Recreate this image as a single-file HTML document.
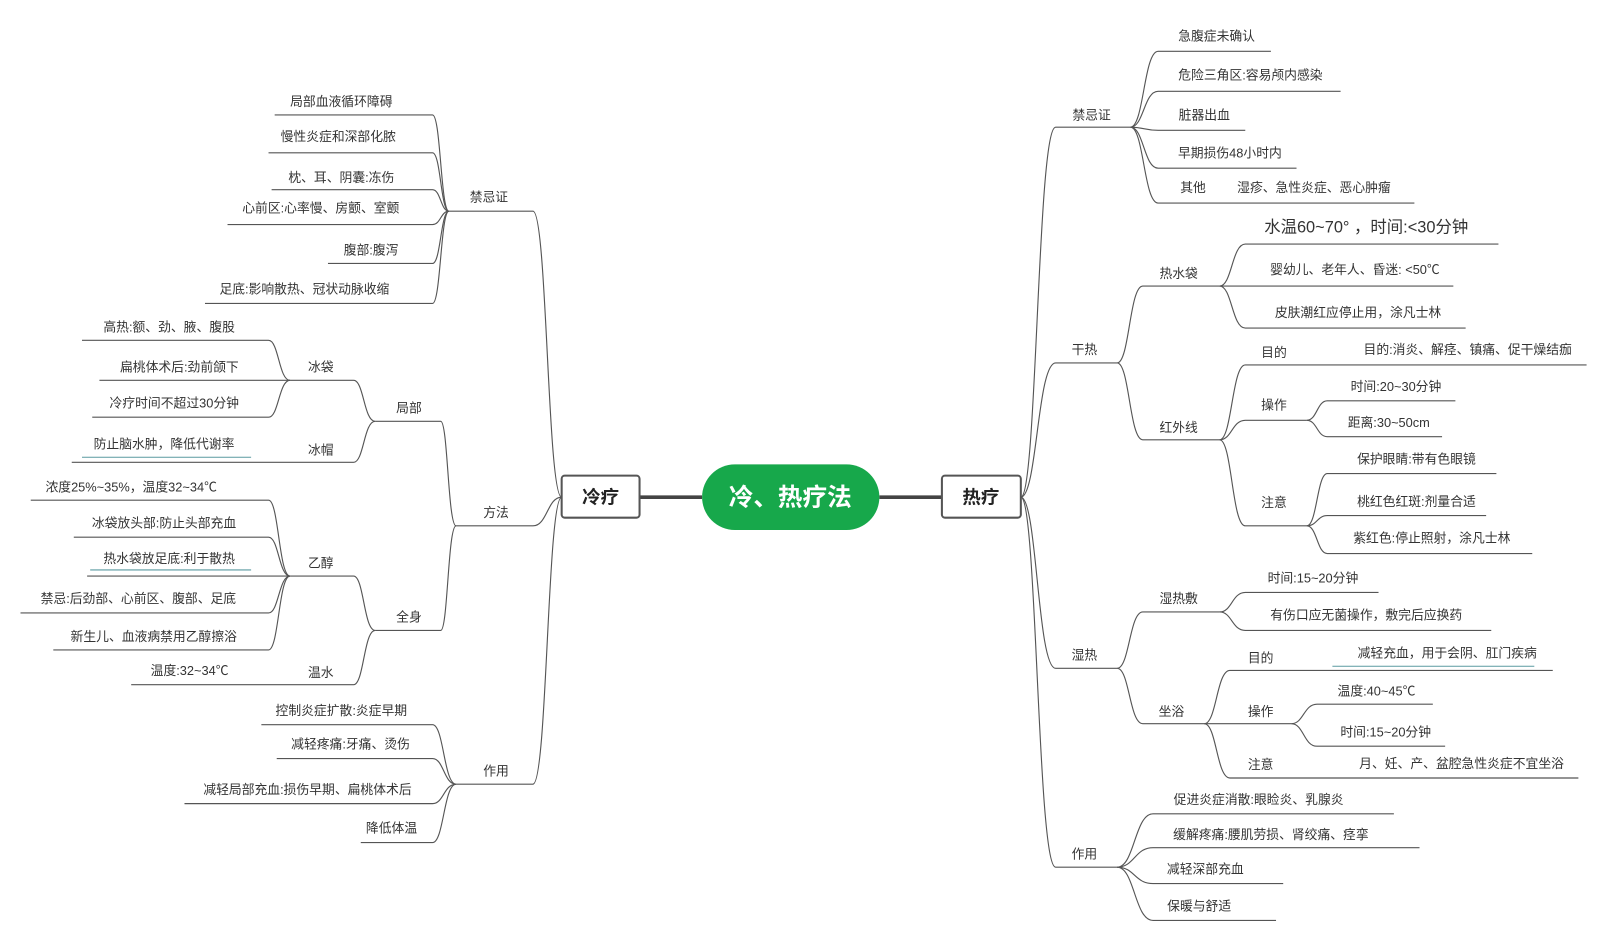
<!DOCTYPE html>
<html><head><meta charset="utf-8"><style>
html,body{margin:0;padding:0;background:#fff;}
svg{display:block;}
text{font-family:"Liberation Sans","Noto Sans CJK SC",sans-serif;font-size:12.5px;fill:#333;text-anchor:middle;dominant-baseline:central;}
.l{fill:none;stroke:#555;stroke-width:1.1;}
</style></head><body>
<svg width="1604" height="939" viewBox="0 0 1565 916" xmlns="http://www.w3.org/2000/svg">
<!-- center -->
<path d="M624 485 H685 M858 485 H919" stroke="#444" stroke-width="3.5" fill="none"/>
<rect x="685" y="453" width="173" height="64" rx="32" fill="#17a84b"/>
<text x="771" y="486" style="font-size:24px;font-weight:bold;fill:#fff">冷、热疗法</text>
<rect x="548" y="464" width="76" height="41" rx="3" fill="#fff" stroke="#555" stroke-width="2"/>
<text x="586" y="485" style="font-size:18px;font-weight:bold;fill:#222">冷疗</text>
<rect x="919" y="464" width="77" height="41" rx="3" fill="#fff" stroke="#555" stroke-width="2"/>
<text x="957" y="485" style="font-size:18px;font-weight:bold;fill:#222">热疗</text>

<!-- LEFT -->
<g class="l">
<path d="M438 206 H520 C534 206 534 485 548 485"/>
<path d="M445 513 H520 C534 513 534 485 548 485"/>
<path d="M445 765 H520 C534 765 534 485 548 485"/>
<path d="M268 112 H422 C430 112 430 206 438 206"/>
<path d="M262 149 H422 C430 149 430 206 438 206"/>
<path d="M265 185 H422 C430 185 430 206 438 206"/>
<path d="M222 219 H422 C430 219 430 206 438 206"/>
<path d="M320 257 H422 C430 257 430 206 438 206"/>
<path d="M200 296 H422 C430 296 430 206 438 206"/>
<path d="M366 411 H430 C437 411 437 513 445 513"/>
<path d="M366 615 H430 C437 615 437 513 445 513"/>
<path d="M283 371 H345 C355 371 355 411 366 411"/>
<path d="M70 451 H345 C355 451 355 411 366 411"/>
<path d="M80 332 H262 C272 332 272 371 283 371"/>
<path d="M97 371 H283"/>
<path d="M90 407 H262 C272 407 272 371 283 371"/>
<path d="M283 562 H345 C355 562 355 615 366 615"/>
<path d="M128 668 H345 C355 668 355 615 366 615"/>
<path d="M30 488 H262 C272 488 272 562 283 562"/>
<path d="M72 524 H262 C272 524 272 562 283 562"/>
<path d="M85 562 H283"/>
<path d="M20 598 H262 C272 598 272 562 283 562"/>
<path d="M52 634 H262 C272 634 272 562 283 562"/>
<path d="M255 707 H422 C433 707 433 765 445 765"/>
<path d="M270 740 H422 C433 740 433 765 445 765"/>
<path d="M180 784 H422 C433 784 433 765 445 765"/>
<path d="M352 822 H422 C433 822 433 765 445 765"/>
</g>
<path d="M80 446 H245 M88 556 H245" stroke="#5a9aa0" stroke-width="1" fill="none"/>
<text x="477" y="192">禁忌证</text>
<text x="333" y="99">局部血液循环障碍</text>
<text x="330" y="133">慢性炎症和深部化脓</text>
<text x="333" y="173">枕、耳、阴囊:冻伤</text>
<text x="313" y="203">心前区:心率慢、房颤、室颤</text>
<text x="362" y="244">腹部:腹泻</text>
<text x="297" y="282">足底:影响散热、冠状动脉收缩</text>
<text x="484" y="500">方法</text>
<text x="399" y="398">局部</text>
<text x="313" y="358">冰袋</text>
<text x="165" y="319">高热:额、劲、腋、腹股</text>
<text x="175" y="358">扁桃体术后:劲前颌下</text>
<text x="170" y="393">冷疗时间不超过30分钟</text>
<text x="313" y="439">冰帽</text>
<text x="160" y="433">防止脑水肿，降低代谢率</text>
<text x="399" y="602">全身</text>
<text x="313" y="549">乙醇</text>
<text x="128" y="475">浓度25%~35%，温度32~34℃</text>
<text x="160" y="510">冰袋放头部:防止头部充血</text>
<text x="165" y="545">热水袋放足底:利于散热</text>
<text x="135" y="584">禁忌:后劲部、心前区、腹部、足底</text>
<text x="150" y="621">新生儿、血液病禁用乙醇擦浴</text>
<text x="313" y="656">温水</text>
<text x="185" y="654">温度:32~34℃</text>
<text x="484" y="752">作用</text>
<text x="333" y="693">控制炎症扩散:炎症早期</text>
<text x="342" y="726">减轻疼痛:牙痛、烫伤</text>
<text x="300" y="770">减轻局部充血:损伤早期、扁桃体术后</text>
<text x="382" y="808">降低体温</text>

<!-- RIGHT -->
<g class="l">
<path d="M996 485 C1012 485 1012 124 1030 124 H1103"/>
<path d="M996 485 C1012 485 1012 354 1030 354 H1090"/>
<path d="M996 485 C1012 485 1012 652 1030 652 H1090"/>
<path d="M996 485 C1012 485 1012 846 1030 846 H1090"/>
<path d="M1103 124 C1116 124 1116 50 1130 50 H1240"/>
<path d="M1103 124 C1116 124 1116 89 1130 89 H1308"/>
<path d="M1103 124 C1116 124 1116 127 1130 127 H1215"/>
<path d="M1103 124 C1116 124 1116 164 1130 164 H1265"/>
<path d="M1103 124 C1116 124 1116 198 1130 198 H1380"/>
<path d="M1090 354 C1102 354 1102 279 1115 279 H1190"/>
<path d="M1090 354 C1102 354 1102 429 1115 429 H1190"/>
<path d="M1190 279 C1202 279 1202 238 1215 238 H1462"/>
<path d="M1190 279 H1418"/>
<path d="M1190 279 C1202 279 1202 320 1215 320 H1430"/>
<path d="M1190 429 C1202 429 1202 356 1215 356 H1548"/>
<path d="M1190 429 C1202 429 1202 410 1215 410 H1275"/>
<path d="M1190 429 C1202 429 1202 513 1215 513 H1275"/>
<path d="M1275 410 C1285 410 1285 391 1295 391 H1420"/>
<path d="M1275 410 C1285 410 1285 426 1295 426 H1407"/>
<path d="M1275 513 C1285 513 1285 462 1295 462 H1460"/>
<path d="M1275 513 C1285 513 1285 503 1295 503 H1450"/>
<path d="M1275 513 C1285 513 1285 540 1295 540 H1495"/>
<path d="M1090 652 C1102 652 1102 597 1115 597 H1190"/>
<path d="M1090 652 C1102 652 1102 706 1115 706 H1175"/>
<path d="M1190 597 C1202 597 1202 578 1215 578 H1345"/>
<path d="M1190 597 C1202 597 1202 615 1215 615 H1455"/>
<path d="M1175 706 C1187 706 1187 654 1200 654 H1515"/>
<path d="M1175 706 H1260"/>
<path d="M1175 706 C1187 706 1187 759 1200 759 H1540"/>
<path d="M1260 706 C1272 706 1272 687 1285 687 H1398"/>
<path d="M1260 706 C1272 706 1272 728 1285 728 H1410"/>
<path d="M1090 846 C1107 846 1107 794 1125 794 H1360"/>
<path d="M1090 846 C1107 846 1107 827 1125 827 H1385"/>
<path d="M1090 846 C1107 846 1107 862 1125 862 H1252"/>
<path d="M1090 846 C1107 846 1107 898 1125 898 H1245"/>
</g>
<path d="M1300 650 H1497" stroke="#5a9aa0" stroke-width="1" fill="none"/>
<text x="1065" y="112">禁忌证</text>
<text x="1187" y="35">急腹症未确认</text>
<text x="1220" y="73">危险三角区:容易颅内感染</text>
<text x="1175" y="112">脏器出血</text>
<text x="1200" y="149">早期损伤48小时内</text>
<text x="1164" y="183">其他</text>
<text x="1282" y="183">湿疹、急性炎症、恶心肿瘤</text>
<text x="1058" y="341">干热</text>
<text x="1150" y="267">热水袋</text>
<text x="1333" y="222" style="font-size:16px">水温60~70° ，时间:&lt;30分钟</text>
<text x="1322" y="263">婴幼儿、老年人、昏迷: &lt;50℃</text>
<text x="1325" y="305">皮肤潮红应停止用，涂凡士林</text>
<text x="1150" y="417">红外线</text>
<text x="1243" y="344">目的</text>
<text x="1432" y="341">目的:消炎、解痉、镇痛、促干燥结痂</text>
<text x="1243" y="395">操作</text>
<text x="1362" y="377">时间:20~30分钟</text>
<text x="1355" y="412">距离:30~50cm</text>
<text x="1243" y="490">注意</text>
<text x="1382" y="448">保护眼睛:带有色眼镜</text>
<text x="1382" y="489">桃红色红斑:剂量合适</text>
<text x="1397" y="525">紫红色:停止照射，涂凡士林</text>
<text x="1058" y="639">湿热</text>
<text x="1150" y="584">湿热敷</text>
<text x="1281" y="564">时间:15~20分钟</text>
<text x="1333" y="600">有伤口应无菌操作，敷完后应换药</text>
<text x="1143" y="694">坐浴</text>
<text x="1230" y="642">目的</text>
<text x="1412" y="637">减轻充血，用于会阴、肛门疾病</text>
<text x="1230" y="694">操作</text>
<text x="1343" y="674">温度:40~45℃</text>
<text x="1352" y="714">时间:15~20分钟</text>
<text x="1230" y="746">注意</text>
<text x="1426" y="745">月、妊、产、盆腔急性炎症不宜坐浴</text>
<text x="1058" y="833">作用</text>
<text x="1228" y="780">促进炎症消散:眼睑炎、乳腺炎</text>
<text x="1240" y="814">缓解疼痛:腰肌劳损、肾绞痛、痉挛</text>
<text x="1176" y="848">减轻深部充血</text>
<text x="1170" y="884">保暖与舒适</text>
</svg>
</body></html>
